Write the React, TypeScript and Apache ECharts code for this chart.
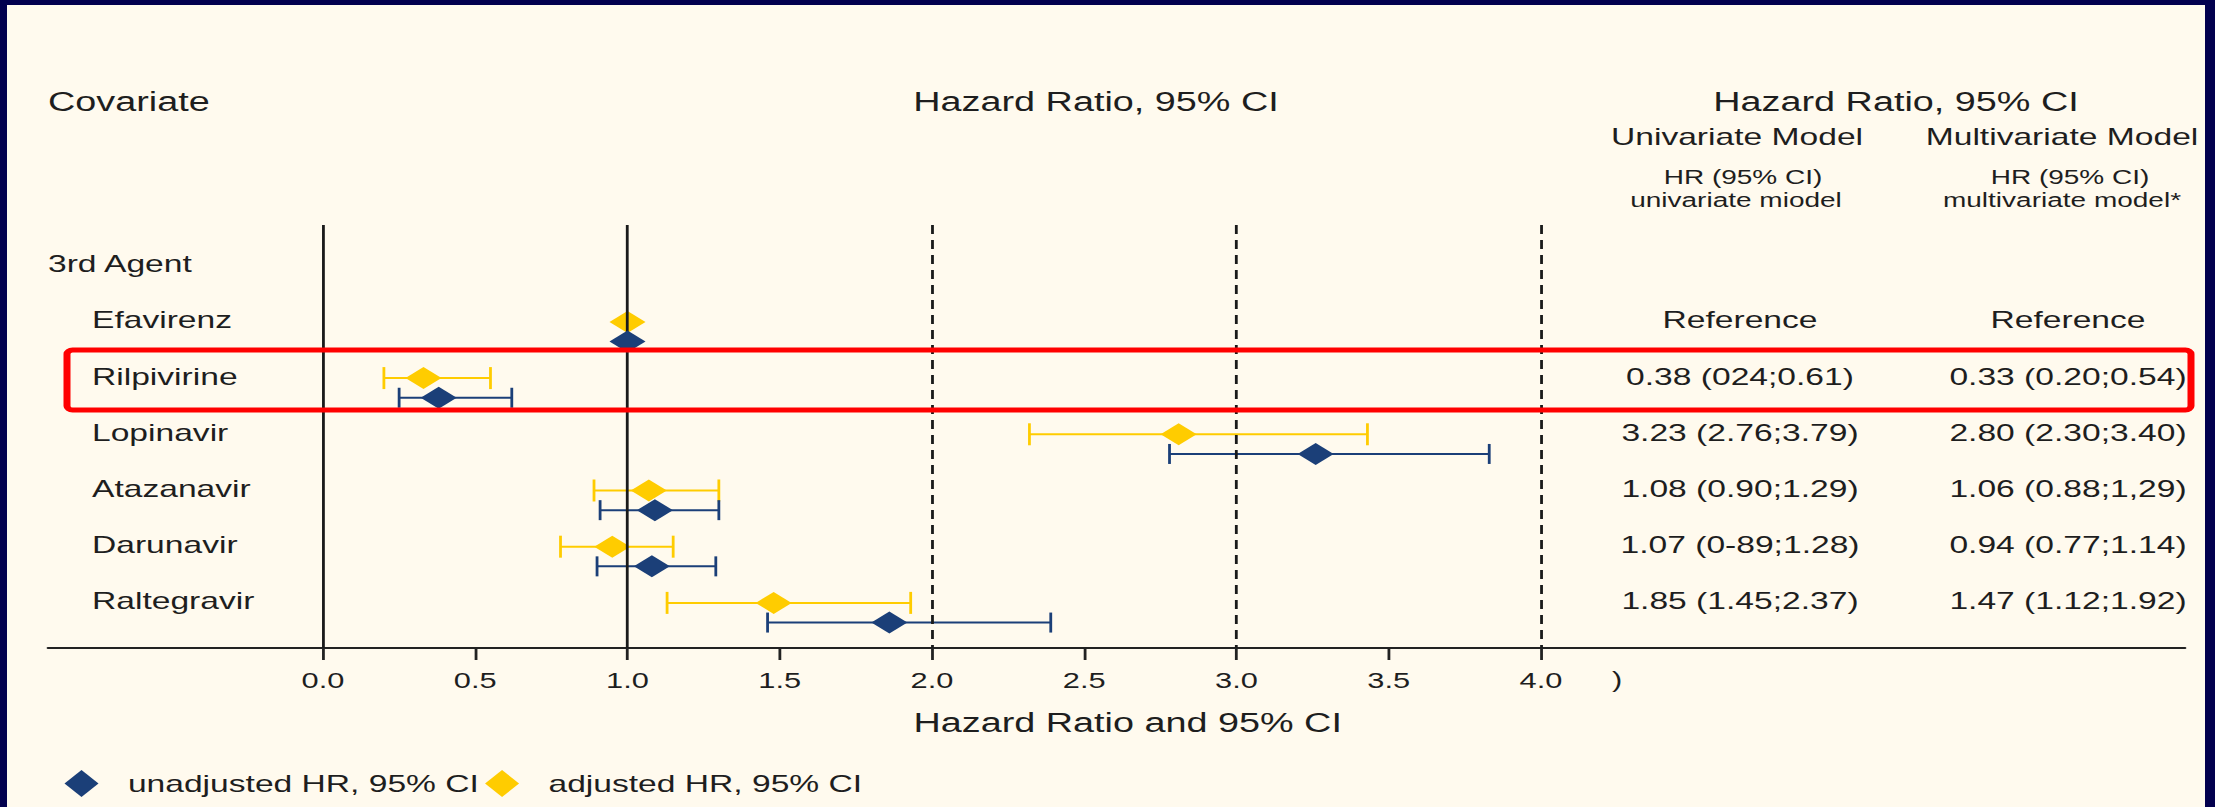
import React, { useEffect, useRef } from "react";
import * as echarts from "echarts";

// ---------------- data (marks read from the plotted positions) ----------------
const rowLabels = ["3rd Agent", "Efavirenz", "Rilpivirine", "Lopinavir", "Atazanavir", "Darunavir", "Raltegravir"];
const drugRows = [1, 2, 3, 4, 5, 6]; // index of each drug in rowLabels

const unadjHR = [1.0, 0.38, 3.26, 1.09, 1.08, 1.86];
const unadjLo = [null, 0.25, 2.78, 0.91, 0.9, 1.46];
const unadjHi = [null, 0.62, 3.83, 1.3, 1.29, 2.39];

const adjHR = [1.0, 0.33, 2.81, 1.07, 0.95, 1.48];
const adjLo = [null, 0.2, 2.32, 0.89, 0.78, 1.13];
const adjHi = [null, 0.55, 3.43, 1.3, 1.15, 1.93];

const uniText = ["Reference", "0.38 (024;0.61)", "3.23 (2.76;3.79)", "1.08 (0.90;1.29)", "1.07 (0-89;1.28)", "1.85 (1.45;2.37)"];
const multiText = ["Reference", "0.33 (0.20;0.54)", "2.80 (2.30;3.40)", "1.06 (0.88;1,29)", "0.94 (0.77;1.14)", "1.47 (1.12;1.92)"];

const xTicks = [0, 0.5, 1, 1.5, 2, 2.5, 3, 3.5, 4];
const solidRefs = [0, 1];
const dashedRefs = [2, 3, 4];

const UNADJ_NAME = "unadjusted HR, 95% CI";
const ADJ_NAME = "adjusted HR, 95% CI";

// ---------------- layout (pixels of the 2215x807 picture) ----------------
const FULL_W = 2215;
const FULL_H = 807;
const CW = 1582; // drawn at this width, then stretched horizontally like the original figure
const SX = FULL_W / CW;
const px = (x: number) => x / SX;

const X0_PX = 323;
const UNIT_PX = 304.5;
const AXIS_L = 48;
const AXIS_R = 2185;
const GRID_TOP = 225;
const GRID_BOTTOM = 648;
const ROW0_Y = 264;
const ROW_STEP = 56.2;
const ADJ_OFF = 0.03;
const UNADJ_OFF = 0.38;

const xMin = (AXIS_L - X0_PX) / UNIT_PX;
const xMax = (AXIS_R - X0_PX) / UNIT_PX;
const yMin = (GRID_TOP - ROW0_Y) / ROW_STEP;
const yMax = (GRID_BOTTOM - ROW0_Y) / ROW_STEP;

const FONT = "'Liberation Sans', Arial, sans-serif";
const TXT = "#1e1e1e";
const NAVY = "#1b3f78";
const GOLD = "#ffcc00";
const BG = "#fffaee";
const FRAME = "#02004e";

function errorBars(lo: (number | null)[], hi: (number | null)[], off: number) {
  const d: number[][] = [];
  lo.forEach((l, k) => {
    if (l !== null && hi[k] !== null) d.push([l, hi[k] as number, drugRows[k] + off]);
  });
  return d;
}

function barRenderer(color: string, cap: number) {
  return (params: any, api: any) => {
    const y = api.value(2);
    const p1 = api.coord([api.value(0), y]);
    const p2 = api.coord([api.value(1), y]);
    const style = { stroke: color, lineWidth: 2 };
    return {
      type: "group",
      children: [
        { type: "line", shape: { x1: p1[0], y1: p1[1], x2: p2[0], y2: p2[1] }, style },
        { type: "line", shape: { x1: p1[0], y1: p1[1] - cap, x2: p1[0], y2: p1[1] + cap }, style },
        { type: "line", shape: { x1: p2[0], y1: p2[1] - cap, x2: p2[0], y2: p2[1] + cap }, style },
      ],
    };
  };
}

function htext(text: string, x: number, y: number, size: number, align = "center") {
  return {
    type: "text",
    x: px(x),
    y,
    z: 50,
    style: { text, fontSize: size, fontFamily: FONT, fill: TXT, align, verticalAlign: "middle" },
  };
}

export default function App() {
  const ref = useRef<HTMLDivElement>(null);

  useEffect(() => {
    document.body.style.margin = "0";
    document.body.style.overflow = "hidden";
    const chart = echarts.init(ref.current as HTMLDivElement, undefined, { renderer: "svg" });

    const option: any = {
      animation: false,
      backgroundColor: FRAME,
      grid: {
        left: px(AXIS_L),
        right: CW - px(AXIS_R),
        top: GRID_TOP,
        bottom: FULL_H - GRID_BOTTOM,
        containLabel: false,
        outerBoundsMode: "none",
      },
      xAxis: {
        type: "value",
        min: xMin,
        max: xMax,
        name: "Hazard Ratio and 95% CI",
        nameLocation: "middle",
        nameGap: 61,
        nameTextStyle: { fontSize: 27, fontFamily: FONT, color: TXT, padding: [0, 0, 0, 16] },
        axisLine: { show: true, onZero: false, lineStyle: { color: "#222", width: 2 } },
        axisTick: { show: true, customValues: xTicks, length: 12, lineStyle: { color: "#222", width: 2 } },
        axisLabel: {
          customValues: xTicks,
          formatter: (v: number) => v.toFixed(1),
          margin: 22,
          fontSize: 22,
          fontFamily: FONT,
          color: TXT,
        },
        splitLine: { show: false },
      },
      yAxis: {
        type: "value",
        inverse: true,
        min: yMin,
        max: yMax,
        axisLine: { show: false, onZero: false },
        axisTick: { show: false },
        splitLine: { show: false },
        axisLabel: {
          inside: true,
          margin: 0,
          customValues: rowLabels.map((_, i) => i),
          formatter: (v: number) => {
            const i = Math.round(v);
            return i === 0 ? `{h|${rowLabels[i]}}` : `{c|${rowLabels[i]}}`;
          },
          rich: {
            h: { fontSize: 24, fontFamily: FONT, color: TXT },
            c: { fontSize: 24, fontFamily: FONT, color: TXT, padding: [0, 0, 0, px(92 - AXIS_L)] },
          },
        },
      },
      legend: {
        data: [{ name: UNADJ_NAME }, { name: ADJ_NAME }],
        icon: "diamond",
        itemWidth: px(34),
        itemHeight: 27,
        itemGap: px(6),
        left: px(57.5),
        top: 765,
        selectedMode: false,
        textStyle: { fontSize: 24, fontFamily: FONT, color: TXT, padding: [0, 0, 0, 16] },
      },
      graphic: [
        { type: "rect", z: -10, shape: { x: px(7), y: 5, width: px(2205 - 7), height: FULL_H - 5 }, style: { fill: BG } },
        htext("Covariate", 48, 102, 27, "left"),
        htext("Hazard Ratio, 95% CI", 1096, 102, 27),
        htext("Hazard Ratio, 95% CI", 1896, 102, 27),
        htext("Univariate Model", 1737, 137, 24),
        htext("Multivariate Model", 2062, 137, 24),
        htext("HR (95% CI)", 1743, 177, 20),
        htext("univariate miodel", 1736, 200, 20),
        htext("HR (95% CI)", 2070, 177, 20),
        htext("multivariate model*", 2062, 200, 20),
        htext(")", 1617, 680, 22),
        {
          type: "rect",
          z: 100,
          shape: { x: px(67), y: 350, width: px(2191 - 67), height: 60, r: 4 },
          style: { fill: "none", stroke: "#ff0000", lineWidth: 5 },
        },
      ],
      series: [
        {
          name: "refLines",
          type: "scatter",
          data: [],
          z: 1,
          markLine: {
            silent: true,
            symbol: ["none", "none"],
            label: { show: false },
            lineStyle: { color: "#1a1a1a", width: 2 },
            data: [
              ...solidRefs.map((v) => ({ xAxis: v, lineStyle: { type: "solid", color: "#1a1a1a", width: 2 } })),
              ...dashedRefs.map((v) => ({ xAxis: v, lineStyle: { type: [9, 6], color: "#1a1a1a", width: 2 } })),
            ],
          },
        },
        {
          name: "adjCI",
          type: "custom",
          z: 3,
          renderItem: barRenderer(GOLD, 11),
          data: errorBars(adjLo, adjHi, ADJ_OFF),
        },
        {
          name: "unadjCI",
          type: "custom",
          z: 3,
          renderItem: barRenderer(NAVY, 10),
          data: errorBars(unadjLo, unadjHi, UNADJ_OFF),
        },
        {
          name: ADJ_NAME,
          type: "scatter",
          z: 4,
          symbol: "diamond",
          symbolSize: [px(36), 22],
          itemStyle: { color: GOLD, opacity: 1 },
          data: adjHR.map((v, k) => [v, drugRows[k] + ADJ_OFF]),
        },
        {
          name: UNADJ_NAME,
          type: "scatter",
          z: 5,
          symbol: "diamond",
          symbolSize: [px(36), 22],
          itemStyle: { color: NAVY, opacity: 1 },
          data: unadjHR.map((v, k) => [v, drugRows[k] + UNADJ_OFF]),
        },
        {
          name: "table",
          type: "custom",
          z: 6,
          data: drugRows.map((r) => [0, r]),
          renderItem: (params: any, api: any) => {
            const y = api.coord([0, api.value(1)])[1];
            const k = params.dataIndex;
            const st = (t: string) => ({
              text: t,
              fontSize: 24,
              fontFamily: FONT,
              fill: TXT,
              align: "center",
              verticalAlign: "middle",
            });
            return {
              type: "group",
              children: [
                { type: "text", x: px(1740), y, style: st(uniText[k]) },
                { type: "text", x: px(2068), y, style: st(multiText[k]) },
              ],
            };
          },
        },
      ],
    };

    chart.setOption(option);
    return () => chart.dispose();
  }, []);

  return (
    <div
      ref={ref}
      style={{
        width: CW,
        height: FULL_H,
        transform: `scaleX(${SX})`,
        transformOrigin: "0 0",
      }}
    />
  );
}
